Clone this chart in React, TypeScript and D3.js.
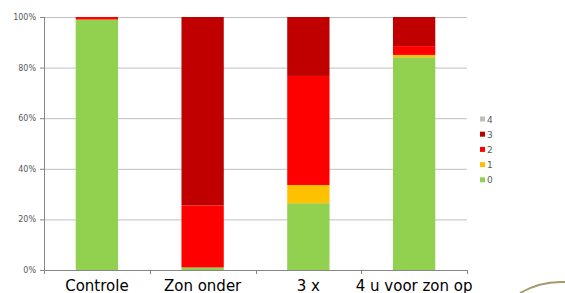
import React, { useEffect, useRef } from 'react';
import * as d3 from 'd3';

const categories = ['Controle', 'Zon onder', '3 x', '4 u voor zon op'];
const seriesKeys = ['0', '1', '2', '3', '4'];
const seriesColors = ['#92D050', '#FFC000', '#FF0000', '#C00000', '#BFBFBF'];

// share per score (percent), one value per category
const score0 = [99, 1, 26.4, 84.1];
const score1 = [0, 0, 7.2, 0.9];
const score2 = [1, 24.5, 43.1, 3.5];
const score3 = [0, 74.5, 23.3, 11.5];
const score4 = [0, 0, 0, 0];

const yTicks = [0, 20, 40, 60, 80, 100];

const App = () => {
  const svgRef = useRef<SVGSVGElement>(null);

  useEffect(() => {
    const svg = d3.select(svgRef.current);
    svg.selectAll('*').remove();

    const margin = { top: 17, left: 44, right: 98, bottom: 23 };
    const width = 565;
    const height = 293;
    const innerW = width - margin.left - margin.right;
    const innerH = height - margin.top - margin.bottom;

    const rows = categories.map((c, i) => ({
      cat: c,
      '0': score0[i],
      '1': score1[i],
      '2': score2[i],
      '3': score3[i],
      '4': score4[i],
    }));

    const x = d3
      .scaleBand()
      .domain(categories)
      .range([0, innerW])
      .paddingInner(0.6)
      .paddingOuter(0.3);
    const y = d3.scaleLinear().domain([0, 100]).range([innerH, 0]);
    const color = d3.scaleOrdinal<string>().domain(seriesKeys).range(seriesColors);

    const g = svg.append('g').attr('transform', `translate(${margin.left},${margin.top})`);

    // gridlines
    g.selectAll('.grid')
      .data(yTicks)
      .join('line')
      .attr('x1', 0)
      .attr('x2', innerW)
      .attr('y1', (d) => y(d) + 0.5)
      .attr('y2', (d) => y(d) + 0.5)
      .attr('stroke', '#C0C0C0')
      .attr('stroke-width', 1);

    // stacked bars
    const stack = d3.stack<any>().keys(seriesKeys)(rows);
    g.selectAll('.layer')
      .data(stack)
      .join('g')
      .attr('fill', (d) => color(d.key))
      .selectAll('rect')
      .data((d) => d)
      .join('rect')
      .attr('x', (d: any) => x(d.data.cat)!)
      .attr('width', x.bandwidth())
      .attr('y', (d) => y(d[1]))
      .attr('height', (d) => y(d[0]) - y(d[1]));

    // y axis
    const yAxis = g.append('g').call(
      d3
        .axisLeft(y)
        .tickValues(yTicks)
        .tickSize(4)
        .tickFormat((d) => `${d}%`)
    );
    yAxis.select('.domain').attr('stroke', '#868686').attr('d', `M0.5,0V${innerH}`);
    yAxis.selectAll('.tick line').attr('stroke', '#868686');
    yAxis
      .selectAll('.tick text')
      .attr('fill', '#595959')
      .attr('font-family', 'DejaVu Sans, Verdana, sans-serif')
      .attr('font-size', 8)
      .attr('x', -8);

    // x axis
    const xAxis = g
      .append('g')
      .attr('transform', `translate(0,${innerH})`)
      .call(d3.axisBottom(x).tickSize(0).tickPadding(10));
    xAxis.select('.domain').attr('stroke', '#868686');
    xAxis
      .selectAll('.tick text')
      .attr('fill', '#000')
      .attr('font-family', 'DejaVu Sans, Verdana, sans-serif')
      .attr('font-size', 15);
    const bounds = categories.map((c) => x(c)! - (x.step() * x.paddingInner()) / 2);
    bounds.push(innerW);
    g.selectAll('.xtick')
      .data(bounds)
      .join('line')
      .attr('x1', (d) => Math.round(d) + 0.5)
      .attr('x2', (d) => Math.round(d) + 0.5)
      .attr('y1', innerH)
      .attr('y2', innerH + 4)
      .attr('stroke', '#868686');

    // legend
    const legend = svg.append('g').attr('transform', 'translate(480,119)');
    const items = legend
      .selectAll('g')
      .data(seriesKeys.slice().reverse())
      .join('g')
      .attr('transform', (d, i) => `translate(0,${i * 15.2})`);
    items
      .append('rect')
      .attr('x', 0)
      .attr('y', -2.5)
      .attr('width', 5)
      .attr('height', 5)
      .attr('fill', (d) => color(d));
    items
      .append('text')
      .attr('x', 7)
      .attr('y', 3.5)
      .attr('fill', '#595959')
      .attr('font-family', 'DejaVu Sans, Verdana, sans-serif')
      .attr('font-size', 9)
      .text((d) => d);

    // decorative swoosh in the corner
    svg
      .append('path')
      .attr('d', 'M520,293 C532,286 546,281 565,282')
      .attr('fill', 'none')
      .attr('stroke', '#A39A6E')
      .attr('stroke-width', 2);
  }, []);

  return (
    <svg
      ref={svgRef}
      width={565}
      height={293}
      style={{ position: 'absolute', left: 0, top: 0, background: '#fff' }}
    />
  );
};

export default App;
